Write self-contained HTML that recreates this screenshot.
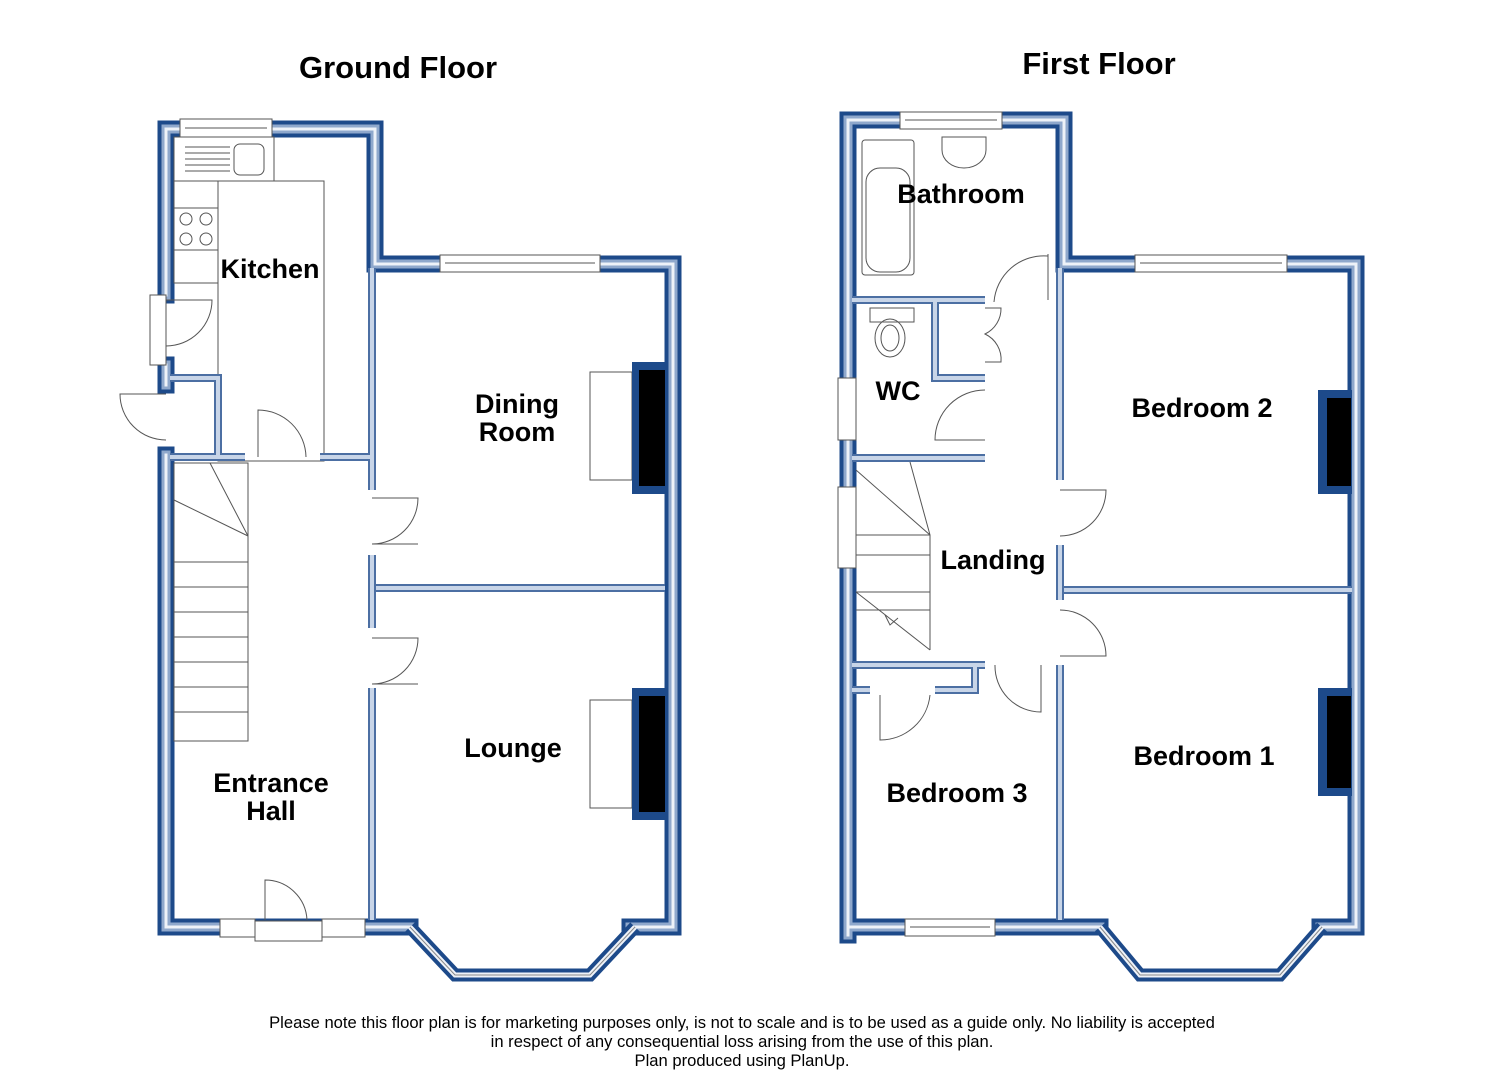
<!DOCTYPE html>
<html><head><meta charset="utf-8"><style>
body{margin:0;background:#fff;}
svg text{font-family:"Liberation Sans",Arial,sans-serif;}
</style></head><body>
<svg width="1485" height="1080" viewBox="0 0 1485 1080" xmlns="http://www.w3.org/2000/svg">
<defs>
<style>
.o1{stroke:#1d4a8a;stroke-width:17;fill:none;stroke-linejoin:miter;stroke-linecap:square}
.o2{stroke:#8fa8cc;stroke-width:9;fill:none;stroke-linecap:square}
.o3{stroke:#eef2f8;stroke-width:3;fill:none;stroke-linecap:square}
.i1{stroke:#4c6fa3;stroke-width:8;fill:none;stroke-linecap:butt}
.i2{stroke:#c8d5e8;stroke-width:4;fill:none;stroke-linecap:butt}
.ln{stroke:#555;stroke-width:1;fill:none}
.win{fill:#fff;stroke:#555;stroke-width:1}
</style>
</defs>
<rect width="1485" height="1080" fill="#fff"/>
<text x="398" y="78" font-size="31" font-weight="bold" text-anchor="middle">Ground Floor</text>
<text x="1099" y="74" font-size="31" font-weight="bold" text-anchor="middle">First Floor</text>

<rect x="218" y="181" width="106" height="280" fill="#f8f8fa" class="ln"/>

<path class="o1" d="M166,295 L166,129 L375,129 L375,264 L673,264 L673,927 L630,927 M410,927 L166,927 L166,455 M166,365 L166,385"/>
<path class="o2" d="M166,295 L166,129 L375,129 L375,264 L673,264 L673,927 L630,927 M410,927 L166,927 L166,455 M166,365 L166,385"/>
<path class="o3" d="M166,295 L166,129 L375,129 L375,264 L673,264 L673,927 L630,927 M410,927 L166,927 L166,455 M166,365 L166,385"/>
<path d="M410,927 L455,975 L590,975 L635,927" stroke="#1d4a8a" stroke-width="13" fill="none"/>
<path d="M410,927 L455,975 L590,975 L635,927" stroke="#eef2f8" stroke-width="5" fill="none"/>
<path d="M410,927 L455,975 L590,975 L635,927" stroke="#888" stroke-width="1" fill="none"/>

<rect class="win" x="180" y="119" width="92" height="18"/>
<line class="ln" x1="185" y1="128" x2="267" y2="128"/>
<rect class="win" x="440" y="255" width="160" height="17"/>
<line class="ln" x1="445" y1="263" x2="595" y2="263"/>
<rect class="win" x="220" y="919" width="35" height="18"/>
<rect class="win" x="322" y="919" width="43" height="18"/>
<rect class="win" x="255" y="921" width="67" height="20"/>
<path class="ln" d="M265,920 L265,880 A42,42 0 0 1 307,920"/>
<rect class="win" x="150" y="295" width="16" height="70"/>
<path class="ln" d="M166,300 L212,300 A46,46 0 0 1 166,346"/>
<path class="ln" d="M166,394 L120,394 A46,46 0 0 0 166,440"/>

<rect class="ln" x="174" y="137" width="100" height="44"/>
<g class="ln"><line x1="185" y1="147" x2="230" y2="147"/><line x1="185" y1="153" x2="230" y2="153"/><line x1="185" y1="159" x2="230" y2="159"/><line x1="185" y1="165" x2="230" y2="165"/><line x1="185" y1="171" x2="230" y2="171"/></g>
<rect class="ln" x="234" y="144" width="30" height="31" rx="6"/>
<rect class="ln" x="174" y="208" width="44" height="42"/>
<circle class="ln" cx="186" cy="219" r="6"/><circle class="ln" cx="206" cy="219" r="6"/>
<circle class="ln" cx="186" cy="239" r="6"/><circle class="ln" cx="206" cy="239" r="6"/>
<rect class="ln" x="174" y="181" width="44" height="102"/>

<path class="i1" d="M372,268 L372,490 M372,555 L372,628 M372,688 L372,920 M376,588 L665,588 M170,457 L245,457 M320,457 L372,457 M170,378 L218,378 L218,457"/>
<path class="i2" d="M372,268 L372,490 M372,555 L372,628 M372,688 L372,920 M376,588 L665,588 M170,457 L245,457 M320,457 L372,457 M170,378 L218,378 L218,457"/>
<path class="ln" d="M258,457 L258,410 A48,48 0 0 1 306,457"/>
<path class="ln" d="M372,498 L418,498 A46,46 0 0 1 372,544"/>
<path class="ln" d="M372,638 L418,638 A46,46 0 0 1 372,684 L418,684"/>
<path class="ln" d="M372,544 L418,544"/>
<rect class="ln" x="590" y="372" width="42" height="108"/>
<rect x="632" y="362" width="34" height="132" fill="#1d4a8a"/>
<rect x="639" y="370" width="26" height="116" fill="#000"/>
<rect class="ln" x="590" y="700" width="42" height="108"/>
<rect x="632" y="688" width="34" height="132" fill="#1d4a8a"/>
<rect x="639" y="696" width="26" height="116" fill="#000"/>
<rect class="ln" x="174" y="463" width="74" height="278"/>
<path class="ln" d="M174,500 L248,536 M210,463 L248,536"/>
<g class="ln">
<line x1="174" y1="562" x2="248" y2="562"/><line x1="174" y1="587" x2="248" y2="587"/><line x1="174" y1="612" x2="248" y2="612"/><line x1="174" y1="637" x2="248" y2="637"/><line x1="174" y1="662" x2="248" y2="662"/><line x1="174" y1="687" x2="248" y2="687"/><line x1="174" y1="712" x2="248" y2="712"/>
</g>

<text x="270" y="278" font-size="27" font-weight="bold" text-anchor="middle">Kitchen</text>
<text x="517" y="413" font-size="27" font-weight="bold" text-anchor="middle">Dining</text>
<text x="517" y="441" font-size="27" font-weight="bold" text-anchor="middle">Room</text>
<text x="513" y="757" font-size="27" font-weight="bold" text-anchor="middle">Lounge</text>
<text x="271" y="792" font-size="27" font-weight="bold" text-anchor="middle">Entrance</text>
<text x="271" y="820" font-size="27" font-weight="bold" text-anchor="middle">Hall</text>

<path class="o1" d="M848,935 L848,120 L1064,120 L1064,264 L1356,264 L1356,927 L1320,927 M1100,927 L848,927"/>
<path class="o2" d="M848,935 L848,120 L1064,120 L1064,264 L1356,264 L1356,927 L1320,927 M1100,927 L848,927"/>
<path class="o3" d="M848,935 L848,120 L1064,120 L1064,264 L1356,264 L1356,927 L1320,927 M1100,927 L848,927"/>
<path d="M1100,927 L1140,975 L1280,975 L1322,927" stroke="#1d4a8a" stroke-width="13" fill="none"/>
<path d="M1100,927 L1140,975 L1280,975 L1322,927" stroke="#eef2f8" stroke-width="5" fill="none"/>
<path d="M1100,927 L1140,975 L1280,975 L1322,927" stroke="#888" stroke-width="1" fill="none"/>
<rect class="win" x="900" y="112" width="102" height="17"/>
<line class="ln" x1="905" y1="120" x2="997" y2="120"/>
<rect class="win" x="1135" y="255" width="152" height="17"/>
<line class="ln" x1="1140" y1="263" x2="1282" y2="263"/>
<rect class="win" x="905" y="919" width="90" height="17"/>
<line class="ln" x1="910" y1="927" x2="990" y2="927"/>
<rect class="win" x="838" y="378" width="18" height="62"/>
<rect class="win" x="838" y="487" width="18" height="81"/>

<rect class="ln" x="862" y="140" width="52" height="135" rx="3"/>
<rect class="ln" x="866" y="168" width="44" height="104" rx="14"/>
<path class="ln" d="M942,137 L986,137 L986,150 A22,18 0 0 1 942,150 Z"/>
<rect class="ln" x="870" y="308" width="44" height="14"/>
<ellipse class="ln" cx="890" cy="338" rx="15" ry="19"/>
<ellipse class="ln" cx="890" cy="338" rx="9" ry="13"/>

<path class="i1" d="M852,300 L985,300 M935,300 L935,378 L985,378 M852,458 L985,458 M1060,268 L1060,480 M1060,545 L1060,600 M1060,665 L1060,920 M1064,590 L1352,590 M852,665 L985,665 M852,690 L870,690 M935,690 L975,690 L975,665"/>
<path class="i2" d="M852,300 L985,300 M935,300 L935,378 L985,378 M852,458 L985,458 M1060,268 L1060,480 M1060,545 L1060,600 M1060,665 L1060,920 M1064,590 L1352,590 M852,665 L985,665 M852,690 L870,690 M935,690 L975,690 L975,665"/>
<path class="ln" d="M1048,254 L1048,300 M1048,256 A50,50 0 0 0 994,302"/>
<path class="ln" d="M985,308 L1001,308 A28,28 0 0 1 985,334 A28,28 0 0 1 1001,362 L985,362"/>
<path class="ln" d="M985,390 A50,50 0 0 0 935,440 L985,440"/>
<path class="ln" d="M1060,490 L1106,490 A46,46 0 0 1 1060,536"/>
<path class="ln" d="M1060,610 A46,46 0 0 1 1106,656 L1060,656"/>
<path class="ln" d="M995,665 A46,46 0 0 0 1041,712 L1041,665"/>
<path class="ln" d="M880,695 L880,740 A50,50 0 0 0 930,695"/>
<path class="ln" d="M856,470 L930,535 L930,650 M910,462 L930,535"/>
<g class="ln">
<line x1="856" y1="535" x2="930" y2="535"/><line x1="856" y1="555" x2="930" y2="555"/><line x1="856" y1="592" x2="930" y2="592"/><line x1="856" y1="610" x2="930" y2="610"/><path d="M856,592 L930,650 M885,615 L890,625 L898,618"/>
</g>
<rect x="1318" y="390" width="34" height="104" fill="#1d4a8a"/>
<rect x="1327" y="398" width="24" height="88" fill="#000"/>
<rect x="1318" y="688" width="34" height="108" fill="#1d4a8a"/>
<rect x="1327" y="696" width="24" height="92" fill="#000"/>

<text x="961" y="203" font-size="27" font-weight="bold" text-anchor="middle">Bathroom</text>
<text x="898" y="400" font-size="27" font-weight="bold" text-anchor="middle">WC</text>
<text x="1202" y="417" font-size="27" font-weight="bold" text-anchor="middle">Bedroom 2</text>
<text x="993" y="569" font-size="27" font-weight="bold" text-anchor="middle">Landing</text>
<text x="1204" y="765" font-size="27" font-weight="bold" text-anchor="middle">Bedroom 1</text>
<text x="957" y="802" font-size="27" font-weight="bold" text-anchor="middle">Bedroom 3</text>

<text x="742" y="1028" font-size="16.6" text-anchor="middle">Please note this floor plan is for marketing purposes only, is not to scale and is to be used as a guide only.  No liability is accepted</text>
<text x="742" y="1047" font-size="16.6" text-anchor="middle">in respect of any consequential loss arising from the use of this plan.</text>
<text x="742" y="1066" font-size="16.6" text-anchor="middle">Plan produced using PlanUp.</text>
</svg>
</body></html>
